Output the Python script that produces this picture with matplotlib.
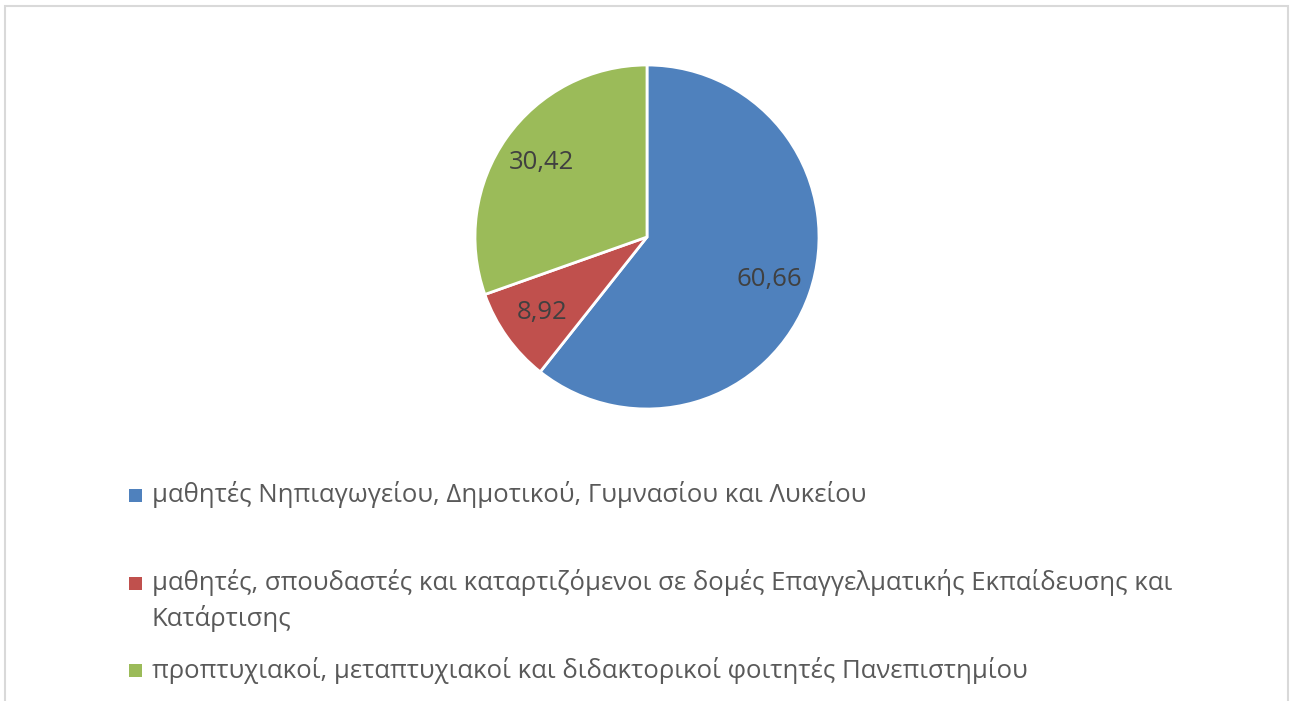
import matplotlib
matplotlib.use("Agg")
import matplotlib.pyplot as plt
from matplotlib.patches import Rectangle

categories = [
    "μαθητές Νηπιαγωγείου, Δημοτικού, Γυμνασίου και Λυκείου",
    "μαθητές, σπουδαστές και καταρτιζόμενοι σε δομές Επαγγελματικής Εκπαίδευσης και\nΚατάρτισης",
    "προπτυχιακοί, μεταπτυχιακοί και διδακτορικοί φοιτητές Πανεπιστημίου",
]
values = [60.66, 8.92, 30.42]
colors = ["#4F81BD", "#C0504D", "#9BBB59"]

W, H = 1293, 701
fig = plt.figure(figsize=(W / 100, H / 100), dpi=100)
plt.rcParams['font.family'] = ['Open Sans', 'DejaVu Sans']

# frame border
fig.add_artist(Rectangle((5 / W, -0.05), 1283 / W, 1.05 - 6 / H, transform=fig.transFigure,
                         fill=False, edgecolor="#D9D9D9", linewidth=1.5))

# pie axes
cx, cy, r = 647, 237, 172
ax = fig.add_axes([(cx - r) / W, (H - cy - r) / H, 2 * r / W, 2 * r / H])
wedges, texts, autotexts = ax.pie(
    values, colors=colors, startangle=90, counterclock=False,
    autopct=lambda p: "", pctdistance=0.75,
    wedgeprops=dict(edgecolor="white", linewidth=2.0),
)
for at, v in zip(autotexts, values):
    at.set_text(f"{v:.2f}".replace(".", ","))
    at.set_fontsize(18.5)
    at.set_color("#404040")
ax.set_xlim(-1, 1)
ax.set_ylim(-1, 1)
ax.set_aspect("equal")
ax.axis("off")

# legend (manual)
entry_y = [495, 583, 670]
line_h = 36
for lab, col, y in zip(categories, colors, entry_y):
    fig.add_artist(Rectangle((129 / W, (H - y - 6.5) / H), 13 / W, 13 / H,
                             transform=fig.transFigure, facecolor=col, edgecolor="none"))
    for i, line in enumerate(lab.split("\n")):
        fig.text(152 / W, (H - y - i * line_h) / H, line, fontsize=18.5, color="#595959",
                 va="center", ha="left")

fig.savefig("out.png", dpi=100, facecolor="white")
